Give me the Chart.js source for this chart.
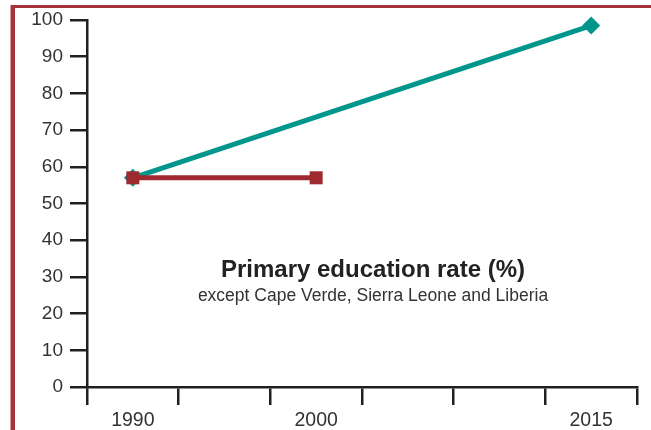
<!DOCTYPE html>
<html>
<head>
<meta charset="utf-8">
<script src="https://cdn.jsdelivr.net/npm/chart.js@4/dist/chart.umd.min.js"></script>
<style>
  html, body { margin: 0; padding: 0; background: #fff; }
  canvas { display: block; }
</style>
</head>
<body>
<canvas id="eduChart" width="651" height="430"></canvas>
<script>
// 5-year slots on the x axis, only some of them carry a label
const years = ['1990', '1995', '2000', '2005', '2010', '2015'];
const labelledYears = ['1990', '2000', '2015'];

// series values (null = no point in that slot)
const tealRate = [57, null, null, null, null, 98.5];
const redRate = [57, null, 57, null, null, null];

const titleText = 'Primary education rate (%)';
const subtitleText = 'except Cape Verde, Sierra Leone and Liberia';

const FONT = '"Liberation Sans", Arial, sans-serif';
const AXIS = '#231f20';
const TEAL = '#00968c';
const RED = '#9e2a30';

// red frame on top and left + the caption in the plot
const decorations = {
  id: 'decorations',
  beforeDraw(chart) {
    const c = chart.ctx;
    c.save();
    c.fillStyle = '#fff';
    c.fillRect(0, 0, chart.width, chart.height);
    c.fillStyle = '#a8323a';
    c.fillRect(10, 5, chart.width - 10, 3);
    c.fillStyle = '#d9a0a3';
    c.fillRect(10, 5, 1, chart.height);
    c.fillStyle = '#a8323a';
    c.fillRect(11, 5, 4, chart.height);
    c.restore();
  },
  afterDatasetsDraw(chart) {
    const c = chart.ctx;
    c.save();
    c.fillStyle = '#222';
    c.textAlign = 'center';
    c.textBaseline = 'middle';
    c.font = 'bold 24px ' + FONT;
    c.fillText(titleText, 373, 270);
    c.font = '17.5px ' + FONT;
    c.fillStyle = '#333';
    c.fillText(subtitleText, 373, 296);
    c.restore();
  }
};

new Chart(document.getElementById('eduChart').getContext('2d'), {
  type: 'line',
  data: {
    labels: years,
    datasets: [
      {
        label: 'red',
        data: redRate,
        borderColor: RED,
        backgroundColor: RED,
        borderWidth: 5,
        pointStyle: 'rect',
        pointRadius: 9.2,
        pointBorderWidth: 0,
        spanGaps: true,
        tension: 0,
        clip: false
      },
      {
        label: 'teal',
        data: tealRate,
        borderColor: TEAL,
        backgroundColor: TEAL,
        borderWidth: 5,
        pointStyle: 'rectRot',
        pointRadius: 9,
        pointBorderWidth: 0,
        spanGaps: true,
        tension: 0,
        clip: false
      }
    ]
  },
  options: {
    responsive: false,
    animation: false,
    layout: { padding: { left: 0, right: 14, top: 20, bottom: 0 } },
    plugins: {
      legend: { display: false },
      tooltip: { enabled: false }
    },
    scales: {
      x: {
        offset: true,
        afterFit(s) { s.height = 43; },
        grid: {
          offset: true,
          drawOnChartArea: false,
          drawTicks: true,
          tickLength: 18,
          color: AXIS,
          lineWidth: 2.5
        },
        border: { display: true, color: AXIS, width: 2.5 },
        ticks: {
          autoSkip: false,
          maxRotation: 0,
          padding: 4,
          color: '#333',
          font: { family: FONT, size: 19.5 },
          callback(v) {
            const y = this.getLabelForValue(v);
            return labelledYears.includes(y) ? y : '';
          }
        }
      },
      y: {
        min: 0,
        max: 100,
        afterFit(s) { s.width = 87; },
        grid: {
          drawOnChartArea: false,
          drawTicks: true,
          tickLength: 17,
          color: AXIS,
          lineWidth: 2.5
        },
        border: { display: true, color: AXIS, width: 2.5 },
        ticks: {
          stepSize: 10,
          padding: 7,
          color: '#333',
          font: { family: FONT, size: 19 }
        }
      }
    }
  },
  plugins: [decorations]
});
</script>
</body>
</html>
